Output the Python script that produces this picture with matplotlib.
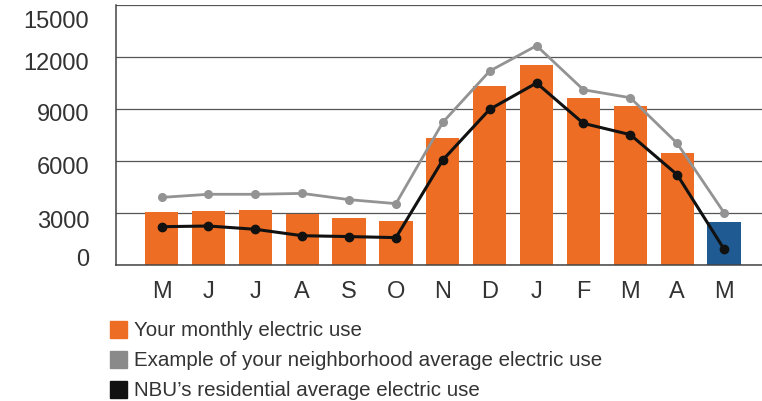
import matplotlib.pyplot as plt
from matplotlib.patches import Rectangle
from matplotlib.transforms import ScaledTranslation

plt.rcParams['font.family'] = ['Liberation Sans', 'DejaVu Sans']

months = ['M', 'J', 'J', 'A', 'S', 'O', 'N', 'D', 'J', 'F', 'M', 'A', 'M']
your_use = [3040, 3100, 3190, 2920, 2730, 2560, 7330, 10350, 11560, 9630, 9170, 6480, 2460]
neighborhood_avg = [3900, 4080, 4080, 4130, 3770, 3540, 8230, 11190, 12650, 10110, 9650, 7020, 3020]
nbu_avg = [2210, 2250, 2060, 1690, 1640, 1580, 6060, 8980, 10500, 8170, 7520, 5210, 920]
y_ticks = [0, 3000, 6000, 9000, 12000, 15000]
# vertical nudge of each y tick label, in pixels (positive = down)
label_nudge = [-9, 5, 4, 3, 4, 14]

orange = '#ec6d23'
blue = '#1f5b92'
gray = '#939393'
black = '#111111'

fig = plt.figure(figsize=(7.62, 4.02), dpi=100)
ax = fig.add_axes([0.1518, 0.3383, 0.8482, 0.6468])

x = list(range(len(months)))
bar_colors = [orange] * (len(months) - 1) + [blue]
ax.bar(x, your_use, width=0.71, color=bar_colors, zorder=2)
ax.plot(x, neighborhood_avg, color=gray, lw=2.0, marker='o', ms=5.5, zorder=3)
ax.plot(x, nbu_avg, color=black, lw=2.2, marker='o', ms=6, zorder=4)

ax.set_xlim(-0.98, 12.81)
ax.set_ylim(0, 15000)
ax.set_yticks(y_ticks)
ax.set_yticklabels([str(v) for v in y_ticks])
ax.set_xticks(x)
ax.set_xticklabels(months)
ax.tick_params(axis='both', length=0, labelsize=17, colors='#333333')
ax.tick_params(axis='y', pad=19)
ax.tick_params(axis='x', pad=11)
ax.yaxis.grid(True, color='#555555', lw=0.9, zorder=1)
ax.set_axisbelow(True)

for lbl, dy in zip(ax.get_yticklabels(), label_nudge):
    lbl.set_transform(lbl.get_transform() + ScaledTranslation(0, -dy / 100, fig.dpi_scale_trans))

for side in ['top', 'right']:
    ax.spines[side].set_visible(False)
for side in ['left', 'bottom']:
    ax.spines[side].set_color('#444444')
    ax.spines[side].set_linewidth(1.1)

# legend drawn as swatches and text below the chart
legend_items = [
    (orange, 'Your monthly electric use'),
    ('#8a8a8a', 'Example of your neighborhood average electric use'),
    (black, 'NBU\u2019s residential average electric use'),
]
for i, (c, label) in enumerate(legend_items):
    yc = 330 + i * 30.3
    fig.patches.append(Rectangle((110 / 762, 1 - (yc + 8.5) / 402), 17 / 762, 17 / 402,
                                 transform=fig.transFigure, color=c))
    fig.text(134 / 762, 1 - yc / 402, label, fontsize=14.8, color='#333333',
             va='center', ha='left')

fig.savefig('out.png', dpi=100)
